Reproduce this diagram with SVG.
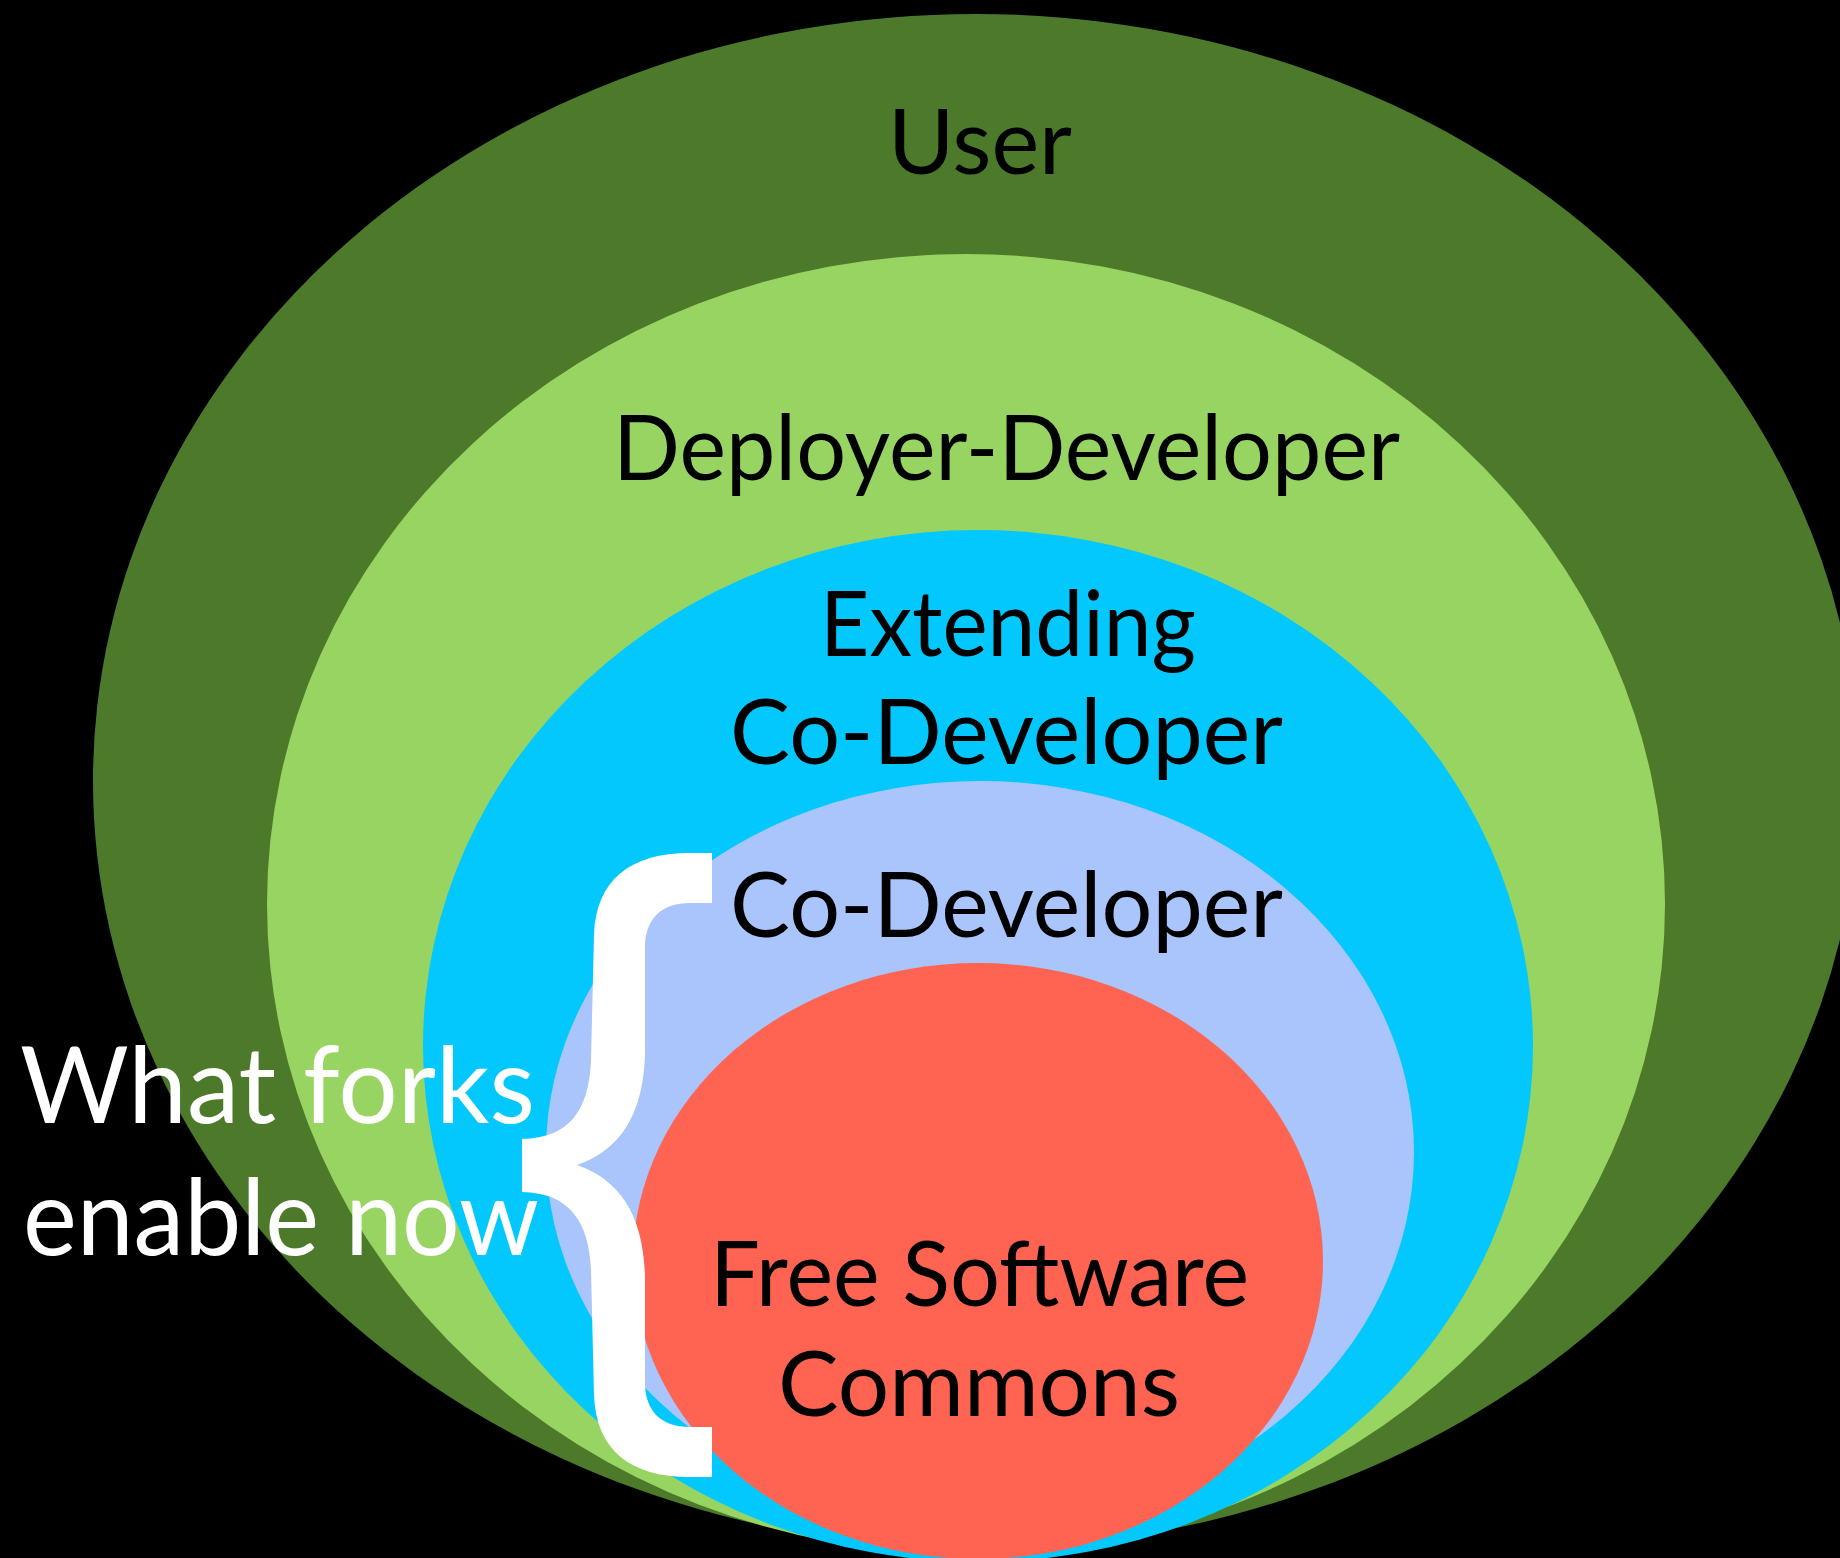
<svg xmlns="http://www.w3.org/2000/svg" width="1840" height="1558" viewBox="0 0 1840 1558">
  <style>
    .lbl { font-family: Lato, "Liberation Sans", "DejaVu Sans", sans-serif; font-size: 92px; fill: #000000; }
    .side { font-family: Lato, "Liberation Sans", "DejaVu Sans", sans-serif; font-size: 107px; fill: #ffffff; }
  </style>
  <rect x="0" y="0" width="1840" height="1558" fill="#000000"/>
  <g id="user">
    <ellipse cx="976" cy="781" rx="883" ry="767" fill="#4C7A2A"/>
    <text class="lbl" x="888" y="174" textLength="184" lengthAdjust="spacingAndGlyphs">User</text>
  </g>
  <g id="deployer-developer">
    <ellipse cx="966" cy="904" rx="699" ry="650" fill="#98D462"/>
    <text class="lbl" x="613" y="480" textLength="787" lengthAdjust="spacingAndGlyphs">Deployer-Developer</text>
  </g>
  <g id="extending-co-developer">
    <ellipse cx="978" cy="1046" rx="555" ry="516" fill="#03C8FE"/>
    <text class="lbl" x="820" y="656" textLength="376" lengthAdjust="spacingAndGlyphs">Extending</text>
    <text class="lbl" x="730" y="764" textLength="553" lengthAdjust="spacingAndGlyphs">Co-Developer</text>
  </g>
  <g id="co-developer">
    <ellipse cx="980" cy="1152" rx="434" ry="371" fill="#A9C5FC"/>
    <text class="lbl" x="730" y="937" textLength="553" lengthAdjust="spacingAndGlyphs">Co-Developer</text>
  </g>
  <g id="free-software-commons">
    <ellipse cx="978" cy="1261" rx="345" ry="298" fill="#FF6452"/>
    <text class="lbl" x="710" y="1306" textLength="539" lengthAdjust="spacingAndGlyphs">Free Software</text>
    <text class="lbl" x="778" y="1416" textLength="402" lengthAdjust="spacingAndGlyphs">Commons</text>
  </g>
  <g id="connectors"/>
  <g id="brace">
    <path fill="#ffffff" d="M712,853 L690,853 C630,853 596,880 594,935 L591,1060 C589,1110 570,1138 522,1139 L522,1192 C570,1193 589,1222 591,1270 L594,1395 C596,1450 630,1477 690,1477 L712,1477 L712,1427 L690,1427 C660,1427 646,1410 645,1385 L645,1275 C643,1215 620,1180 577,1165 C620,1150 643,1115 645,1055 L645,945 C646,920 660,903 690,903 L712,903 Z"/>
  </g>
  <g id="what-forks-enable-now">
    <text class="side" x="20" y="1123" textLength="515" lengthAdjust="spacingAndGlyphs">What forks</text>
    <text class="side" x="23" y="1255" textLength="516" lengthAdjust="spacingAndGlyphs">enable now</text>
  </g>
</svg>
